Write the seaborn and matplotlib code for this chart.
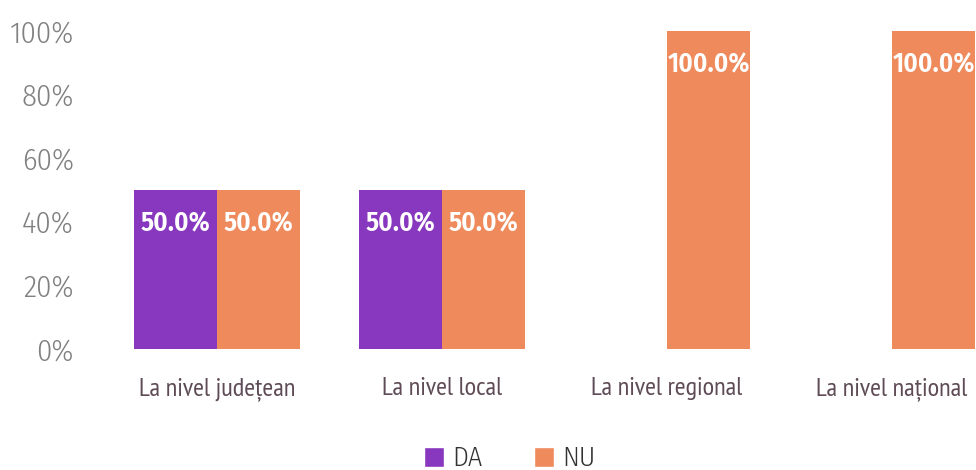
import matplotlib
matplotlib.use("Agg")
import matplotlib.pyplot as plt
from matplotlib.patches import Patch
import seaborn as sns
import pandas as pd

categories = ["La nivel județean", "La nivel local", "La nivel regional", "La nivel național"]
series = ["DA", "NU"]
da_values = [50.0, 50.0, 0.0, 0.0]
nu_values = [50.0, 50.0, 100.0, 100.0]
y_ticks = [0, 20, 40, 60, 80, 100]
colors = {"DA": "#8738BE", "NU": "#EE8A5C"}

sns.set_theme(style="white")
plt.rcParams["font.family"] = ["Fira Sans Condensed", "DejaVu Sans"]

values = {"DA": da_values, "NU": nu_values}
df = pd.DataFrame({
    "category": categories * len(series),
    "series": [s for s in series for _ in categories],
    "value": da_values + nu_values,
})

fig = plt.figure(figsize=(9.76, 4.70), dpi=100)
ax = fig.add_axes([104.5 / 976, 121 / 470, (976 - 104.5) / 976, 318 / 470])

sns.barplot(data=df, x="category", y="value", hue="series", order=categories,
            hue_order=series, palette=colors, width=0.738, saturation=1,
            linewidth=0, legend=False, ax=ax)

# value labels just inside the top of each non-empty bar
for container, name in zip(ax.containers, series):
    for bar, val in zip(container, values[name]):
        if val <= 0:
            continue
        ax.annotate(f"{val:.1f}%", (bar.get_x() + bar.get_width() / 2, val),
                    xytext=(0, -24.5), textcoords="offset points",
                    ha="center", va="center", color="white",
                    fontsize=19.5, fontweight=600)

ax.set_xlim(-0.5, (976 - 104.5) / 225 - 0.5)
ax.set_ylim(0, 100)
ax.set_yticks(y_ticks)
ax.set_yticklabels([f"{t}%" for t in y_ticks], fontweight=300)
ax.set_xticks(range(len(categories)))
ax.set_xticklabels(categories, family=["PT Sans Narrow", "DejaVu Sans"])
ax.set_xlabel("")
ax.set_ylabel("")
ax.tick_params(axis="y", length=0, pad=22, labelsize=22, labelcolor="#808080")
ax.tick_params(axis="x", length=0, pad=20, labelsize=19, labelcolor="#5E4B56")
for s in ax.spines.values():
    s.set_visible(False)

handles = [Patch(facecolor=colors[s], label=s) for s in series]
leg = fig.legend(handles=handles, loc="lower center", bbox_to_anchor=(510 / 976, -0.057),
                 ncol=2, frameon=False, fontsize=20, handlelength=0.72, handleheight=0.72,
                 columnspacing=1.85, handletextpad=0.3, labelcolor="#333333")
for t in leg.get_texts():
    t.set_fontweight(300)

fig.savefig("out.png", dpi=100)
